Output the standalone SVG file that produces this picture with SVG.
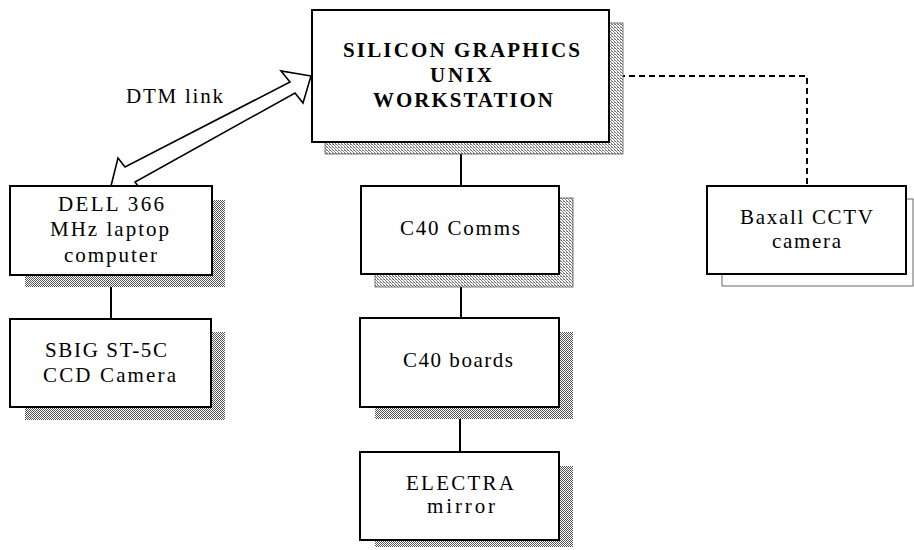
<svg xmlns="http://www.w3.org/2000/svg" width="914" height="550" viewBox="0 0 914 550">
<defs>
<pattern id="dither" width="2" height="2" patternUnits="userSpaceOnUse">
<rect width="2" height="2" fill="#ffffff"/>
<rect x="0" y="0" width="1" height="1" fill="#555"/>
<rect x="1" y="1" width="1" height="1" fill="#555"/>
</pattern>
<pattern id="dither-light" width="3" height="3" patternUnits="userSpaceOnUse">
<rect width="3" height="3" fill="#ffffff"/>
<rect x="0" y="0" width="1" height="1" fill="#666"/>
<rect x="1" y="1" width="1" height="1" fill="#888"/>
<rect x="2" y="2" width="1" height="1" fill="#777"/>
<rect x="2" y="0" width="1" height="1" fill="#aaa"/>
</pattern>
<style>
.box{fill:#ffffff;stroke:#000;stroke-width:2}
.sh{fill:url(#dither);stroke:none}
.shl{fill:url(#dither-light);stroke:#555;stroke-width:0.8}
.lbl{font-family:"Liberation Serif","Times New Roman",serif;font-size:21px;fill:#000}
.ttl{font-family:"Liberation Serif","Times New Roman",serif;font-size:21px;font-weight:bold;fill:#000}
.ln{stroke:#000;stroke-width:2;fill:none}
.dash{stroke:#000;stroke-width:2;fill:none;stroke-dasharray:6 4}
</style>
</defs>
<rect width="914" height="550" fill="#ffffff"/>

<g id="connectors">
<line class="ln" x1="461" y1="142" x2="461" y2="186"/>
<line class="ln" x1="461" y1="274" x2="461" y2="318"/>
<line class="ln" x1="460" y1="407" x2="460" y2="452"/>
<line class="ln" x1="111" y1="275" x2="111" y2="319"/>
<polyline class="dash" points="609,76 807,76 807,186"/>
<polygon id="dtm-arrow" points="311,76 281,71 290,82 125,167 118,158 111,186 143,193 135,182 295,93 303,103" fill="#ffffff" stroke="#000" stroke-width="1.6" stroke-linejoin="miter"/>
<text class="lbl" x="126" y="103" textLength="97" lengthAdjust="spacing">DTM link</text>
</g>

<g id="sgi">
<rect class="shl" x="325" y="23" width="298" height="131"/>
<rect class="box" x="312" y="10" width="297" height="132"/>
<text class="ttl" x="343" y="57" textLength="237" lengthAdjust="spacing">SILICON GRAPHICS</text>
<text class="ttl" x="430" y="82" textLength="62" lengthAdjust="spacing">UNIX</text>
<text class="ttl" x="373" y="107" textLength="180" lengthAdjust="spacing">WORKSTATION</text>
</g>

<g id="dell">
<rect class="sh" x="25" y="200" width="200" height="87"/>
<rect class="box" x="10" y="186" width="202" height="89"/>
<text class="lbl" x="58" y="211" textLength="106" lengthAdjust="spacing">DELL 366</text>
<text class="lbl" x="50" y="236" textLength="119" lengthAdjust="spacing">MHz laptop</text>
<text class="lbl" x="64" y="262" textLength="93" lengthAdjust="spacing">computer</text>
</g>

<g id="sbig">
<rect class="sh" x="25" y="332" width="200" height="88"/>
<rect class="box" x="10" y="319" width="201" height="88"/>
<text class="lbl" x="45" y="357" textLength="122" lengthAdjust="spacing">SBIG ST-5C</text>
<text class="lbl" x="43" y="382" textLength="133" lengthAdjust="spacing">CCD Camera</text>
</g>

<g id="c40-comms">
<rect class="shl" x="375" y="198" width="198" height="89"/>
<rect class="box" x="361" y="186" width="198" height="88"/>
<text class="lbl" x="400" y="235" textLength="120" lengthAdjust="spacing">C40 Comms</text>
</g>

<g id="c40-boards">
<rect class="sh" x="375" y="332" width="198" height="87"/>
<rect class="box" x="360" y="318" width="199" height="89"/>
<text class="lbl" x="403" y="367" textLength="110" lengthAdjust="spacing">C40 boards</text>
</g>

<g id="electra">
<rect class="sh" x="375" y="466" width="198" height="81"/>
<rect class="box" x="360" y="452" width="199" height="88"/>
<text class="lbl" x="406" y="490" textLength="108" lengthAdjust="spacing">ELECTRA</text>
<text class="lbl" x="427" y="513" textLength="68" lengthAdjust="spacing">mirror</text>
</g>

<g id="baxall">
<rect x="722" y="199" width="191" height="87" fill="#ffffff" stroke="#666" stroke-width="1"/>
<rect class="box" x="707" y="186" width="199" height="88"/>
<text class="lbl" x="740" y="224" textLength="133" lengthAdjust="spacing">Baxall CCTV</text>
<text class="lbl" x="772" y="248" textLength="69" lengthAdjust="spacing">camera</text>
</g>
</svg>
